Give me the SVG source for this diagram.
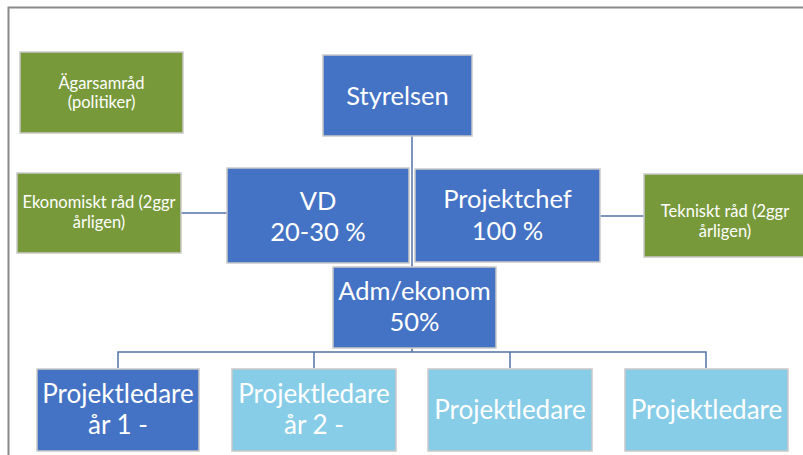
<svg xmlns="http://www.w3.org/2000/svg" width="803" height="455" viewBox="0 0 803 455">
<style>
.bx{stroke:#c9c9c9;stroke-width:1.5}
.dk{fill:#4472c4}
.lt{fill:#87cde8}
.gr{fill:#77993a}
.t{font-family:Lato,"Liberation Sans",sans-serif;fill:#ffffff;text-anchor:middle}
.big{font-size:25.5px}
.pl{font-size:26px}
.sm{font-size:16.5px}
.ln{stroke:#5373a8;stroke-width:1.5;fill:none}
</style>
<rect x="0" y="0" width="803" height="455" fill="#ffffff"/>
<path d="M8.5 455 V7.5 H803" stroke="#8a8a8a" stroke-width="2" fill="none"/>
<g id="connectors">
<path class="ln" d="M412 136 V267"/>
<path class="ln" d="M181 213 H227"/>
<path class="ln" d="M600 216 H644"/>
<path class="ln" d="M412 348 V352"/>
<path class="ln" d="M118 368 V352 H706 V368"/>
<path class="ln" d="M314 352 V368"/>
<path class="ln" d="M510 352 V368"/>
</g>
<g id="agarsamrad">
<rect class="bx gr" x="20" y="52" width="163" height="81"/>
<text class="t sm" x="101.5" y="89">Ägarsamråd</text>
<text class="t sm" x="101.5" y="108">(politiker)</text>
</g>
<g id="styrelsen">
<rect class="bx dk" x="323" y="55" width="149" height="81"/>
<text class="t big" x="397.5" y="105">Styrelsen</text>
</g>
<g id="ekonomiskt">
<rect class="bx gr" x="17" y="173" width="164" height="80"/>
<text class="t sm" x="99" y="208">Ekonomiskt råd (2ggr</text>
<text class="t sm" x="99" y="228">årligen)</text>
</g>
<g id="vd">
<rect class="bx dk" x="227" y="168" width="182" height="95"/>
<text class="t big" x="318" y="210">VD</text>
<text class="t big" x="318" y="241">20-30 %</text>
</g>
<g id="projektchef">
<rect class="bx dk" x="415" y="169" width="185" height="93"/>
<text class="t big" x="507.5" y="208">Projektchef</text>
<text class="t big" x="507.5" y="240">100 %</text>
</g>
<g id="tekniskt">
<rect class="bx gr" x="644" y="174" width="165" height="83"/>
<text class="t sm" x="725" y="217">Tekniskt råd (2ggr</text>
<text class="t sm" x="725" y="237">årligen)</text>
</g>
<g id="adm">
<rect class="bx dk" x="333" y="267" width="163" height="81"/>
<text class="t big" x="414.5" y="300">Adm/ekonom</text>
<text class="t big" x="414.5" y="331">50%</text>
</g>
<g id="pl1">
<rect class="bx dk" x="37" y="369" width="162" height="82"/>
<text class="t pl" x="118" y="403">Projektledare</text>
<text class="t pl" x="118" y="434">år 1 -</text>
</g>
<g id="pl2">
<rect class="bx lt" x="232" y="369" width="164" height="82"/>
<text class="t pl" x="314" y="403">Projektledare</text>
<text class="t pl" x="314" y="434">år 2 -</text>
</g>
<g id="pl3">
<rect class="bx lt" x="428" y="369" width="164" height="82"/>
<text class="t pl" x="510" y="419">Projektledare</text>
</g>
<g id="pl4">
<rect class="bx lt" x="625" y="369" width="163" height="82"/>
<text class="t pl" x="706.5" y="419">Projektledare</text>
</g>
</svg>
